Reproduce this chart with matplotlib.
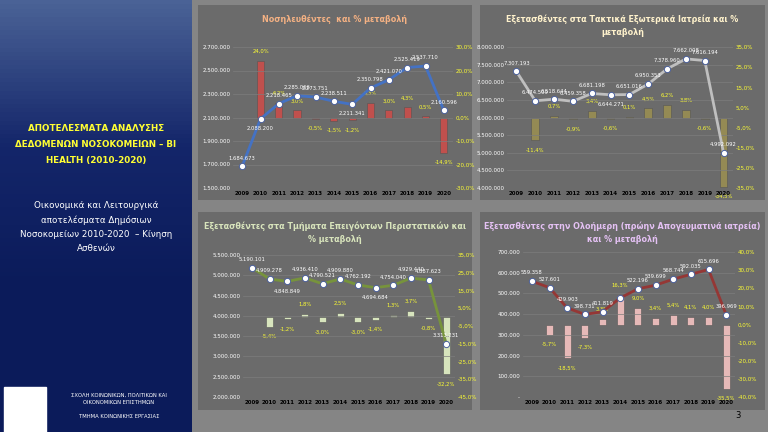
import matplotlib.pyplot as plt
import numpy as np
from matplotlib.patches import Rectangle

years = [str(y) for y in range(2009, 2021)]

# Nosileuthentes
hosp_vals = [1684673, 2088200, 2218465, 2285066, 2273751, 2238511, 2211341, 2350798, 2421070, 2525419, 2537710, 2160596]
hosp_pct = [np.nan, 24.0, 6.2, 3.0, -0.5, -1.5, -1.2, 6.3, 3.0, 4.3, 0.5, -14.9]
# Taktika exoterika iatreia
outp_vals = [7307193, 6474509, 6518644, 6459358, 6681198, 6644271, 6651016, 6950353, 7378960, 7662008, 7616194, 4992092]
outp_pct = [np.nan, -11.4, 0.7, -0.9, 3.4, -0.6, 0.1, 4.5, 6.2, 3.8, -0.6, -34.5]
# Tmimata epeigonton
emer_vals = [5190101, 4909278, 4848849, 4936410, 4790521, 4909880, 4762192, 4694684, 4754040, 4929440, 4887623, 3313231]
emer_pct = [np.nan, -5.4, -1.2, 1.8, -3.0, 2.5, -3.0, -1.4, 1.3, 3.7, -0.8, -32.2]
# Olohmerh
day_vals = [559358, 527601, 429903, 398731, 411819, 478000, 522196, 539699, 568744, 592035, 615696, 396969]
day_pct = [np.nan, -5.7, -18.5, -7.3, 3.3, 16.3, 9.0, 3.4, 5.4, 4.1, 4.0, -35.5]

plt.rcParams['font.family'] = ['DejaVu Sans']
W, H = 768, 432
fig = plt.figure(figsize=(7.68, 4.32), dpi=100)
fig.patch.set_facecolor('#858585')


def box(x0, y0, x1, y1):
    return [x0 / W, 1 - y1 / H, (x1 - x0) / W, (y1 - y0) / H]


# left blue panel, lighter at the top
bg = fig.add_axes(box(0, 0, 192, 432))
grad = np.linspace(0, 1, 100)[:, None]
cmap = plt.matplotlib.colors.LinearSegmentedColormap.from_list('b', ['#0b1b5a', '#0b1b5a', '#14266a', '#4a6296'])
bg.imshow(grad, aspect='auto', cmap=cmap, extent=[0, 1, 0, 1], origin='lower')
bg.set_xlim(0, 1)
bg.set_ylim(0, 1)
bg.axis('off')
bg.text(0.5, 0.665, 'ΑΠΟΤΕΛΕΣΜΑΤΑ ΑΝΑΛΥΣΗΣ\nΔΕΔΟΜΕΝΩΝ ΝΟΣΟΚΟΜΕΙΩΝ – BI\nHEALTH (2010-2020)',
        color='#ffff33', ha='center', va='center', fontsize=6.3, fontweight='bold', linespacing=2.0)
bg.text(0.5, 0.475, 'Οικονομικά και Λειτουργικά\nαποτελέσματα Δημόσιων\nΝοσοκομείων 2010-2020  – Κίνηση\nΑσθενών',
        color='white', ha='center', va='center', fontsize=6.3, linespacing=1.7)
bg.add_patch(Rectangle((0.02, 0.0), 0.22, 0.105, color='white'))
bg.text(0.62, 0.06, 'ΣΧΟΛΗ ΚΟΙΝΩΝΙΚΩΝ, ΠΟΛΙΤΙΚΩΝ ΚΑΙ\nΟΙΚΟΝΟΜΙΚΩΝ ΕΠΙΣΤΗΜΩΝ\n\nΤΜΗΜΑ ΚΟΙΝΩΝΙΚΗΣ ΕΡΓΑΣΙΑΣ',
        color='white', ha='center', va='center', fontsize=3.8, linespacing=1.5)


def fmt(v):
    return f'{v:,}'.replace(',', '.')


def chart(frame, plot, title, tcol, vals, pct, lcol, bcol, ylim, ystep, plim, pstep,
          zero_dash=False, skip=(), below=()):
    fa = fig.add_axes(box(*frame))
    fa.set_facecolor('#6b6b6b')
    fa.set_xticks([])
    fa.set_yticks([])
    for s in fa.spines.values():
        s.set_visible(False)
    fa.text(0.5, 0.95, title, color=tcol, ha='center', va='top', fontsize=5.8,
            fontweight='bold', transform=fa.transAxes, linespacing=1.5)

    ax = fig.add_axes(box(*plot))
    x = np.arange(len(years))
    ax2 = ax.twinx()
    ax.set_zorder(ax2.get_zorder() + 1)
    ax.patch.set_visible(False)
    ax2.bar(x, pct, width=0.4, color=bcol, edgecolor='#555555', linewidth=0.4, zorder=2)
    ax2.set_ylim(*plim)
    ax2.set_yticks(np.arange(plim[0], plim[1] + 0.1, pstep))
    ax2.set_yticklabels([f'{t:.1f}%'.replace('.', ',') for t in ax2.get_yticks()])
    ax.plot(x, vals, color=lcol, lw=2, marker='o', ms=4.5, mfc='white', mec='#4a5f9a', mew=0.7, zorder=5)
    ax.set_ylim(*ylim)
    ticks = np.arange(ylim[0], ylim[1] + 1, ystep)
    ax.set_yticks(ticks)
    ax.set_yticklabels(['-' if (zero_dash and t == 0) else fmt(int(t)) for t in ticks])
    ax.set_xticks(x)
    ax.set_xticklabels(years)
    ax.set_xlim(-0.5, len(years) - 0.5)
    ax.grid(axis='y', color='#7d7d7d', lw=0.5)
    ax.set_axisbelow(True)
    for a in (ax, ax2):
        for s in a.spines.values():
            s.set_visible(False)
        a.tick_params(length=0, labelsize=4, pad=2)
    ax.tick_params(axis='y', colors='white')
    ax.tick_params(axis='x', colors='black')
    for lab in ax.get_xticklabels():
        lab.set_fontweight('bold')
    ax2.tick_params(axis='y', colors='#ffff33')
    span = ylim[1] - ylim[0]
    for i, v in enumerate(vals):
        if i in skip:
            continue
        if i in below:
            ax.text(i, v - span * 0.05, fmt(v), color='white', fontsize=3.8, ha='center', va='top', zorder=6)
        else:
            ax.text(i, v + span * 0.04, fmt(v), color='white', fontsize=3.8, ha='center', va='bottom', zorder=6)
    pspan = plim[1] - plim[0]
    for i, p in enumerate(pct):
        if np.isnan(p):
            continue
        off = pspan * 0.05
        ax2.text(i, p + off if p >= 0 else p - off, f'{p:.1f}%'.replace('.', ','), color='#ffff33',
                 fontsize=3.8, ha='center', va='bottom' if p >= 0 else 'top', zorder=6)


chart((198, 5, 472, 200), (233, 47, 453, 188), 'Νοσηλευθέντες  και % μεταβολή', '#f4b183',
      hosp_vals, hosp_pct, '#4472c4', '#c0504d', (1500000, 2700000), 200000, (-30, 30), 10,
      below=(1, 6))
chart((480, 5, 765, 200), (507, 47, 733, 188), 'Εξετασθέντες στα Τακτικά Εξωτερικά Ιατρεία και %\nμεταβολή',
      '#fff2cc', outp_vals, outp_pct, '#bfbfbf', '#948a54', (4000000, 8000000), 500000, (-35, 35), 10,
      below=(5,))
chart((198, 212, 472, 410), (243, 255, 455, 397), 'Εξετασθέντες στα Τμήματα Επειγόντων Περιστατικών και\n% μεταβολή',
      '#d8e4bc', emer_vals, emer_pct, '#77933c', '#d7e4bd', (2000000, 5500000), 500000, (-45, 35), 10,
      below=(2, 7))
chart((480, 212, 765, 410), (523, 252, 735, 397), 'Εξετασθέντες στην Ολοήμερη (πρώην Απογευματινά ιατρεία)\nκαι % μεταβολή',
      '#e4c1f4', day_vals, day_pct, '#953735', '#e6b9b8', (0, 700000), 100000, (-40, 40), 10,
      zero_dash=True, skip=(5,))

fig.text(735 / W, 1 - 418 / H, '3', color='black', fontsize=6)
fig.savefig('out.png', dpi=100, facecolor=fig.get_facecolor())
